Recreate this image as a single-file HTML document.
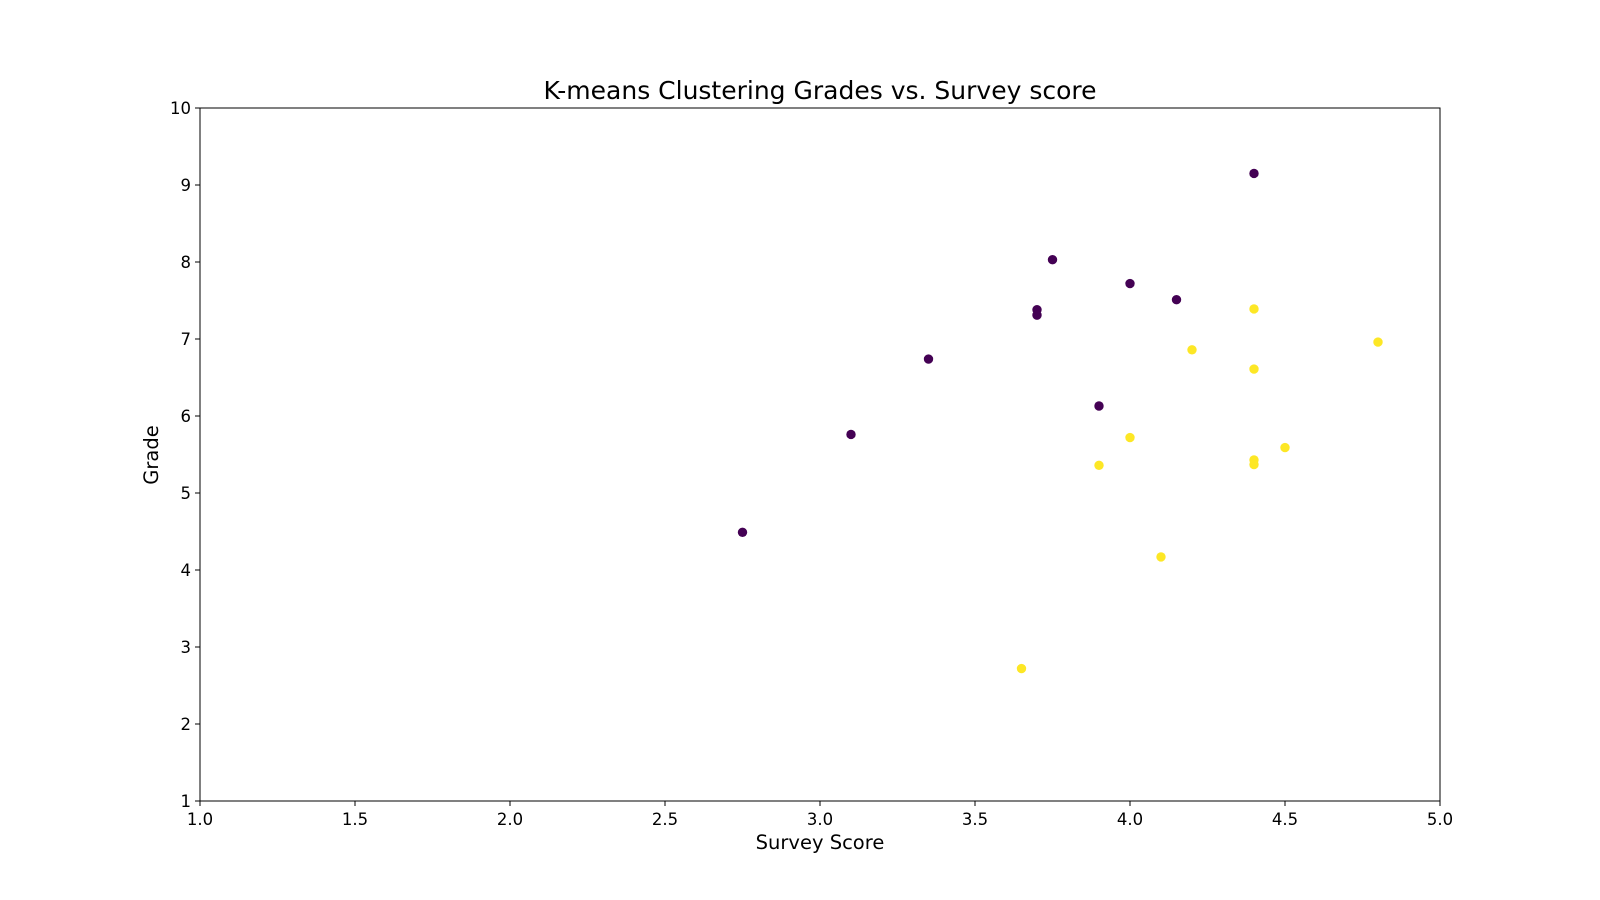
<!DOCTYPE html>
<html><head><meta charset="utf-8"><style>
body{margin:0;background:#fff;}
svg{display:block;font-family:"DejaVu Sans","Liberation Sans",sans-serif;}
</style></head><body>
<svg id="chart" width="1600" height="900">
<text x="820" y="99" text-anchor="middle" font-size="25">K-means Clustering Grades vs. Survey score</text>
<g id="ticks"></g>
<g id="marks"></g>
<rect x="200" y="108" width="1240" height="693" fill="none" stroke="#000" stroke-width="1"/>
<text x="820" y="849" text-anchor="middle" font-size="19.5">Survey Score</text>
<text transform="translate(158,455) rotate(-90)" text-anchor="middle" font-size="19.5">Grade</text>
</svg>
<script>
const xTicks=[1.0,1.5,2.0,2.5,3.0,3.5,4.0,4.5,5.0];
const yTicks=[1,2,3,4,5,6,7,8,9,10];
const purpleX=[4.40,3.75,4.00,4.15,3.70,3.70,3.35,3.90,3.10,2.75];
const purpleY=[9.15,8.03,7.72,7.51,7.38,7.31,6.74,6.13,5.76,4.49];
const yellowX=[4.40,4.80,4.20,4.40,4.00,4.50,4.40,4.40,3.90,4.10,3.65];
const yellowY=[7.39,6.96,6.86,6.61,5.72,5.59,5.43,5.37,5.36,4.17,2.72];
const NS='http://www.w3.org/2000/svg';
const L=200,R=1440,T=108,B=801;
const sx=v=>L+(v-1)/4*(R-L);
const sy=v=>B-(v-1)/9*(B-T);
const tg=document.getElementById('ticks'),mg=document.getElementById('marks');
function mk(tag,attrs,parent){const e=document.createElementNS(NS,tag);for(const k in attrs)e.setAttribute(k,attrs[k]);parent.appendChild(e);return e;}
xTicks.forEach(v=>{
 const l=mk('line',{x1:sx(v),x2:sx(v),y1:B,y2:B+5,stroke:'#000'},tg);
 
 
 const t=mk('text',{x:sx(v),y:B+24,'text-anchor':'middle','font-size':'16.5'},tg);
 t.textContent=v.toFixed(1);
 
 
});
yTicks.forEach(v=>{
 const l=mk('line',{x1:L-5,x2:L,y1:sy(v),y2:sy(v),stroke:'#000'},tg);
 
 
 const t=mk('text',{x:L-9,y:sy(v)+6,'text-anchor':'end','font-size':'16.5'},tg);
 t.textContent=String(v);
 
 
});
purpleX.forEach((x,i)=>{
 const c=mk('circle',{cx:sx(x),cy:sy(purpleY[i]),r:4.7,fill:'#440154'},mg);
 
 
});
yellowX.forEach((x,i)=>{
 const c=mk('circle',{cx:sx(x),cy:sy(yellowY[i]),r:4.7,fill:'#fde725'},mg);
 
 
});
</script>
</body></html>
